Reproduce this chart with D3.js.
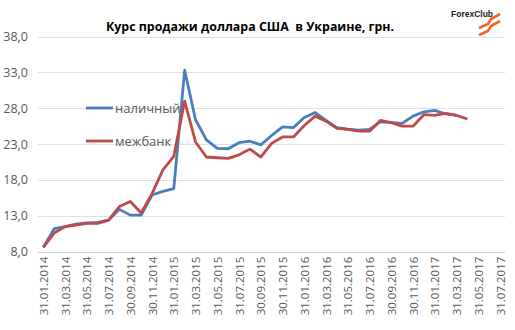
<!DOCTYPE html>
<html>
<head>
<meta charset="utf-8">
<script src="https://cdn.jsdelivr.net/npm/d3@7"></script>
<style>
  body { margin: 0; background: #fff; }
  svg text { font-family: "Open Sans", "Noto Sans", sans-serif; }
</style>
</head>
<body>
<svg id="chart" width="515" height="330"></svg>
<script>
// month-end dates of the observations
const categories = [
    "31.01.2014", "28.02.2014", "31.03.2014", "30.04.2014", "31.05.2014", "30.06.2014",
    "31.07.2014", "31.08.2014", "30.09.2014", "31.10.2014", "30.11.2014", "31.12.2014",
    "31.01.2015", "28.02.2015", "31.03.2015", "30.04.2015", "31.05.2015", "30.06.2015",
    "31.07.2015", "31.08.2015", "30.09.2015", "31.10.2015", "30.11.2015", "31.12.2015",
    "31.01.2016", "29.02.2016", "31.03.2016", "30.04.2016", "31.05.2016", "30.06.2016",
    "31.07.2016", "31.08.2016", "30.09.2016", "31.10.2016", "30.11.2016", "31.12.2016",
    "31.01.2017", "28.02.2017", "31.03.2017", "30.04.2017"
];
const cash = [
    8.6, 11.2, 11.5, 11.85, 12.0, 12.1, 12.4, 13.9, 13.1, 13.1, 15.9, 16.4,
    16.8, 33.3, 26.4, 23.6, 22.4, 22.35, 23.2, 23.4, 22.9, 24.2, 25.4, 25.3,
    26.7, 27.4, 26.3, 25.3, 25.1, 24.95, 25.05, 26.1, 26.0, 25.9, 26.9, 27.5,
    27.7, 27.2, 27.0
];
const interbank = [
    8.6, 10.6, 11.5, 11.7, 11.95, 11.95, 12.4, 14.3, 15.0, 13.4, 16.1, 19.4,
    21.3, 29.0, 23.3, 21.2, 21.1, 21.0, 21.5, 22.3, 21.2, 23.1, 24.0, 24.0,
    25.6, 26.9, 26.2, 25.2, 25.05, 24.8, 24.8, 26.3, 26.0, 25.5, 25.5, 27.1,
    27.0, 27.3, 27.0, 26.5
];
const xTickLabels = [
    "31.01.2014", "31.03.2014", "31.05.2014", "31.07.2014", "30.09.2014", "30.11.2014",
    "31.01.2015", "31.03.2015", "31.05.2015", "31.07.2015", "30.09.2015", "30.11.2015",
    "31.01.2016", "31.03.2016", "31.05.2016", "31.07.2016", "30.09.2016", "30.11.2016",
    "31.01.2017", "31.03.2017", "31.05.2017", "31.07.2017"
];
const yTicks = [8, 13, 18, 23, 28, 33, 38];
const seriesNames = ["наличный", "межбанк"];
const title = "Курс продажи доллара США  в Украине, грн.";

const width = 515, height = 330;
const margin = { top: 36.5, right: 10, bottom: 78.3, left: 38 };

// month number counted from Jan 2014
const monthIndex = s => {
    const [d, m, y] = s.split(".").map(Number);
    return (y - 2014) * 12 + (m - 1);
};

const x = d3.scaleLinear()
    .domain([0, monthIndex(xTickLabels[xTickLabels.length - 1])])
    .range([43.3, 500]);
const y = d3.scaleLinear()
    .domain([8, 38])
    .range([height - margin.bottom, margin.top]);

const svg = d3.select("#chart");

// gridlines
svg.append("g")
    .attr("class", "grid")
    .selectAll("line")
    .data(yTicks)
    .join("line")
        .attr("x1", margin.left)
        .attr("x2", width - margin.right)
        .attr("y1", d => Math.round(y(d)) + 0.5)
        .attr("y2", d => Math.round(y(d)) + 0.5)
        .attr("stroke", d => d === 8 ? "#d0d0d0" : "#e0e0e0")
        .attr("stroke-width", 1.2);

// y axis labels
let yAxis = d3.axisLeft(y)
    .tickValues(yTicks)
    .tickSize(0)
    .tickPadding(0)
    .tickFormat(d => d3.format(".1f")(d).replace(".", ","));

svg.append("g")
    .attr("transform", "translate(28, 0)")
    .call(yAxis)
    .call(g => g.select(".domain").remove())
    .call(g => g.selectAll("text")
        .attr("fill", "#595959")
        .style("font-size", "12.5px")
        .style("font-family", "\"Open Sans\", sans-serif"));

// x axis labels
let xAxis = d3.axisBottom(x)
    .tickValues(xTickLabels.map(monthIndex))
    .tickSize(0)
    .tickFormat((d, i) => xTickLabels[i]);

svg.append("g")
    .attr("transform", `translate(0, ${height - margin.bottom})`)
    .call(xAxis)
    .call(g => g.select(".domain").remove())
    .call(g => g.selectAll("text")
        .attr("fill", "#595959")
        .style("font-size", "11.5px")
        .style("font-family", "\"Open Sans\", sans-serif")
        .attr("text-anchor", "end")
        .attr("dy", "0.35em")
        .attr("transform", "translate(0, 5) rotate(-90)")
        .attr("x", 0)
        .attr("y", 0));

// lines
let line = d3.line()
    .x((d, i) => x(monthIndex(categories[i])))
    .y(d => y(d));

const colors = ["#4a7ebb", "#be4b48"];
[cash, interbank].forEach((values, k) => {
    svg.append("path")
        .datum(values)
        .attr("fill", "none")
        .attr("stroke", colors[k])
        .attr("stroke-width", 2.8)
        .attr("stroke-linejoin", "round")
        .attr("d", line);
});

// legend
const legend = svg.append("g").attr("class", "legend");
seriesNames.forEach((name, k) => {
    let ly = 108 + k * 33;
    legend.append("line")
        .attr("x1", 86).attr("x2", 113)
        .attr("y1", ly).attr("y2", ly)
        .attr("stroke", colors[k])
        .attr("stroke-width", 2.8);
    legend.append("text")
        .attr("x", 115).attr("y", ly)
        .attr("dy", "0.35em")
        .attr("fill", "#595959")
        .style("font-size", "13px")
        .text(name);
});

// title
svg.append("text")
    .attr("x", 250).attr("y", 31)
    .attr("text-anchor", "middle")
    .attr("fill", "#000")
    .style("font-size", "12.4px")
    .style("font-weight", "bold")
    .style("white-space", "pre")
    .text(title);

// ForexClub logo
const logo = svg.append("g");
logo.append("text")
    .attr("x", 451).attr("y", 17)
    .attr("fill", "#222")
    .style("font-size", "8.5px")
    .style("font-weight", "bold")
    .style("font-family", "\"Liberation Sans\", sans-serif")
    .text("ForexClub");
[0, 7].forEach(o => {
    logo.append("path")
        .attr("d", `M479 ${28 + o} L488 ${24 + o} L491 ${19 + o} L500 ${14 + o}`)
        .attr("fill", "none")
        .attr("stroke", "#f26522")
        .attr("stroke-width", 2.6);
});
</script>
</body>
</html>
